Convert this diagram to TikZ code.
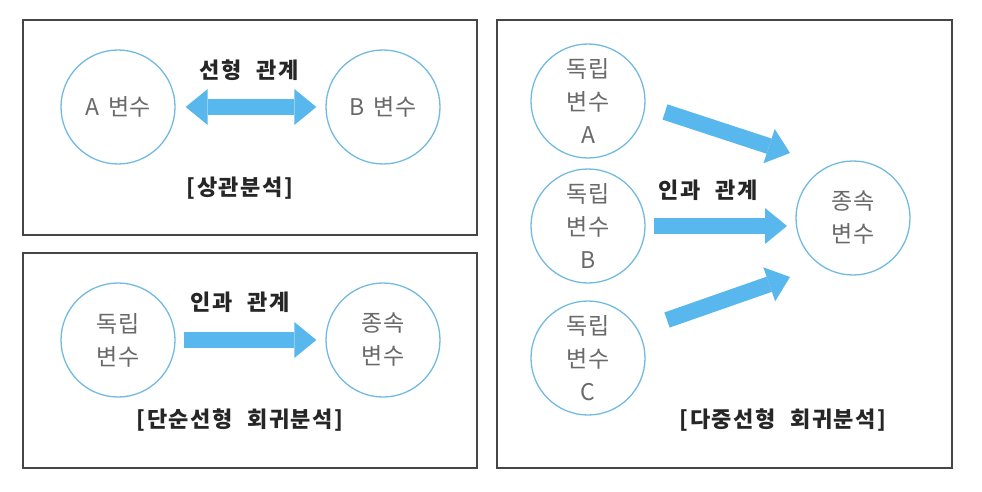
\documentclass[tikz,border=0pt]{standalone}
\usepackage{fontspec}
\setmainfont{Noto Sans CJK KR}
\newfontfamily\lblfont[LetterSpace=7,WordSpace=2.2]{Noto Sans CJK KR}
\newfontfamily\varfont[LetterSpace=2,WordSpace=1.6]{Noto Sans CJK KR}
\usetikzlibrary{arrows.meta}
\definecolor{arrowblue}{RGB}{88,183,236}
\definecolor{ringblue}{RGB}{115,186,224}
\definecolor{txtgray}{RGB}{105,105,105}
\definecolor{boxgray}{RGB}{70,70,70}
\begin{document}
\begin{tikzpicture}[x=1pt,y=-1pt,
  var/.style={circle, draw=ringblue, line width=1.3pt, minimum size=114pt, inner sep=0pt, text=txtgray, font=\varfont\fontsize{23}{33}\selectfont, align=center},
  panel/.style={draw=boxgray, line width=1.3pt},
  lbl/.style={font=\lblfont\bfseries\fontsize{22}{26}\selectfont, text=black!85, inner sep=0pt},
  fat/.style={line width=16pt, draw=arrowblue, fill=arrowblue, -{Triangle[length=22pt,width=36pt,line width=0pt]}},
  fatboth/.style={line width=16pt, draw=arrowblue, fill=arrowblue, {Triangle[length=22pt,width=36pt,line width=0pt]}-{Triangle[length=22pt,width=36pt,line width=0pt]}}
]
\useasboundingbox (0,0) rectangle (982,492);
\fill[white] (0,0) rectangle (982,492);
% panels
\draw[panel] (23,20) rectangle (477,235);
\draw[panel] (23,253) rectangle (477,468);
\draw[panel] (497,20) rectangle (952,468);
% panel 1
\node[var] (A) at (118,107) {A 변수};
\node[var] (B) at (383,107) {B 변수};
\draw[fatboth, shorten <=10pt, shorten >=9pt] (A) -- (B);
\node[lbl] (l1) at (249,70) {선형 관계};
\node[lbl] (t1) at (240,188) {[상관분석]};
% panel 2
\node[var] (I1) at (118,340) {독립\\변수};
\node[var] (D1) at (383,340) {종속\\변수};
\draw[fat, shorten <=8pt, shorten >=9pt] (I1) -- (D1);
\node[lbl] (l2) at (240,302) {인과 관계};
\node[lbl] (t2) at (240,420) {[단순선형 회귀분석]};
% panel 3
\node[var] (IA) at (588,101) {독립\\변수\\A};
\node[var] (IB) at (588,226) {독립\\변수\\B};
\node[var] (IC) at (588,358) {독립\\변수\\C};
\node[var] (DD) at (853,218) {종속\\변수};
\coordinate (sa) at (665,112);
\coordinate (ea) at (790,153);
\coordinate (sb) at (654,226);
\coordinate (eb) at (787,226);
\coordinate (sc) at (667,320);
\coordinate (ec) at (790,277);
\draw[fat] (sa) -- (ea);
\draw[fat] (sb) -- (eb);
\draw[fat] (sc) -- (ec);
\node[lbl] (l3) at (708,190) {인과 관계};
\node[lbl] (t3) at (783,420) {[다중선형 회귀분석]};
\end{tikzpicture}
\end{document}
